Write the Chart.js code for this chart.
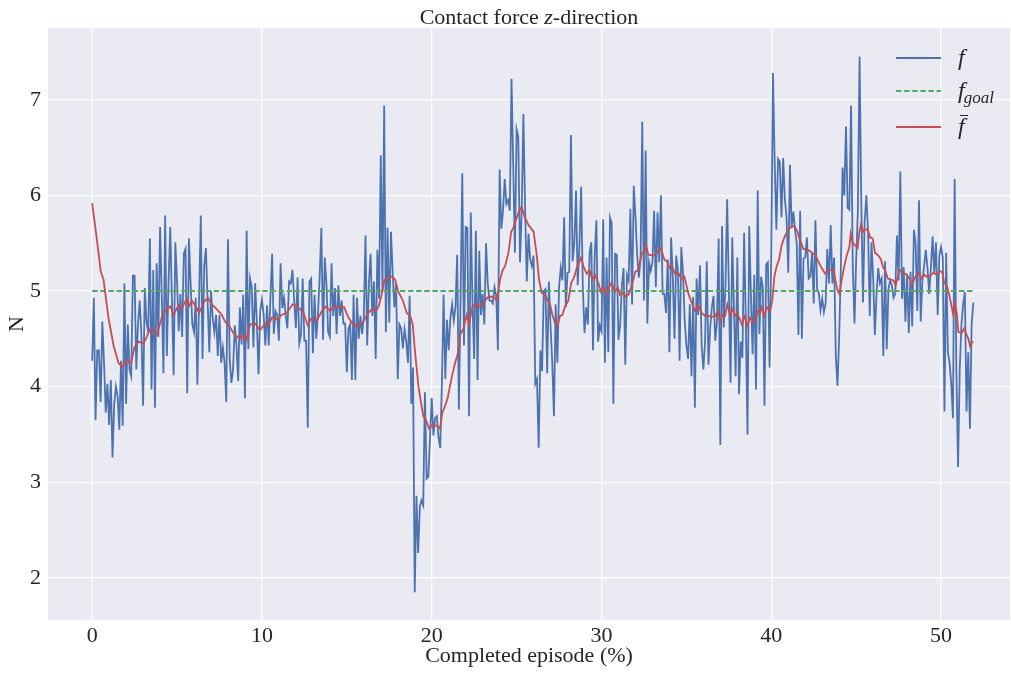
<!DOCTYPE html>
<html>
<head>
<meta charset="utf-8">
<title>Contact force z-direction</title>
<script src="https://cdn.jsdelivr.net/npm/chart.js@4.4.1/dist/chart.umd.min.js"></script>
<style>
  html, body { margin: 0; padding: 0; background: #ffffff; }
  #wrap { width: 1011px; height: 673px; position: relative; }
</style>
</head>
<body>
<div id="wrap"><canvas id="chart"></canvas></div>
<script>
// Measured contact force f (N), one sample every 0.1 % of the episode
const forceZ = [
  4.27, 4.93, 3.65, 4.38, 4.38, 3.84, 4.68, 4.25, 3.73, 4.03,
  3.60, 4.07, 3.26, 3.82, 4.00, 3.90, 3.55, 4.27, 3.59, 5.08,
  3.82, 4.65, 4.18, 4.11, 5.16, 5.16, 4.18, 4.65, 4.90, 4.55,
  3.80, 5.03, 4.68, 4.57, 5.55, 3.97, 5.22, 3.78, 5.29, 4.52,
  5.67, 4.95, 4.14, 5.79, 4.32, 5.10, 5.67, 4.90, 4.12, 5.51,
  5.10, 4.58,
  4.97, 4.52, 5.39, 5.44, 3.93, 5.55, 5.08, 4.65, 4.57, 4.93,
  4.02, 4.93, 5.79, 4.29, 5.26, 5.45, 4.90, 4.36, 5.00, 4.72,
  4.57, 4.75, 4.32, 4.75, 4.25, 4.41, 4.25, 3.84, 5.54, 4.29,
  4.04, 4.18, 4.64, 4.43, 4.06, 4.83, 4.44, 4.96, 3.88, 5.63,
  4.39, 5.13, 5.04, 4.41, 5.08, 4.68, 4.13, 4.79, 4.91, 4.75,
  4.43, 4.85,
  4.43, 4.93, 5.39, 4.55, 4.79, 4.75, 4.48, 5.29, 4.82, 4.93,
  4.75, 4.61, 5.10, 5.08, 5.22, 4.90, 4.61, 5.14, 4.45, 4.54,
  5.13, 4.48, 4.48, 3.57, 5.10, 5.13, 4.35, 4.96, 4.50, 4.75,
  5.15, 5.66, 4.49, 5.35, 5.08, 4.57, 4.52, 5.29, 4.74, 5.03,
  4.55, 5.06, 4.74, 4.90, 4.66, 4.66, 4.15, 4.61, 4.65, 4.07,
  4.96, 4.07, 4.93, 4.50,
  4.74, 4.55, 4.72, 5.58, 4.43, 5.08, 5.39, 4.74, 5.10, 4.29,
  5.43, 4.92, 6.42, 5.00, 6.94, 4.57, 5.66, 4.67, 5.62, 5.20,
  4.83, 5.08, 4.08, 4.65, 4.61, 4.40, 4.60, 4.47, 4.25, 4.95,
  3.82, 4.20, 1.85, 2.86, 2.26, 2.74, 2.81, 2.76, 3.94, 3.04,
  3.06, 3.46, 3.88, 3.49, 3.67, 3.69, 3.47, 3.36, 4.03, 4.96,
  4.08, 4.70, 4.38,
  4.72, 4.86, 4.69, 4.83, 5.38, 3.76, 4.94, 6.23, 4.43, 5.67,
  5.66, 3.69, 5.82, 4.90, 4.29, 5.63, 4.07, 5.42, 4.75, 4.97,
  4.65, 5.50, 5.08, 4.90, 4.90, 4.87, 5.04, 4.95, 4.38, 6.27,
  5.65, 5.84, 6.17, 5.91, 5.95, 5.84, 7.22, 6.32, 5.40, 6.69,
  6.61, 5.30, 5.84, 6.85, 5.87, 5.10, 5.60, 5.33, 5.26, 5.37,
  4.03, 4.08, 3.36, 4.38,
  4.16, 5.00, 5.02, 4.14, 5.10, 4.63, 4.25, 3.69, 4.86, 4.25,
  5.04, 5.24, 5.11, 5.77, 4.83, 5.19, 5.20, 6.63, 5.31, 5.50,
  6.05, 5.06, 5.48, 6.09, 5.04, 4.56, 4.83, 4.65, 5.40, 5.51,
  4.38, 5.37, 5.74, 4.47, 4.64, 4.58, 5.75, 4.25, 5.35, 4.36,
  5.77, 5.71, 3.82, 5.39, 5.38, 4.49, 4.65, 5.06, 5.24, 4.23,
  5.17, 5.11, 5.86,
  4.86, 6.10, 5.78, 5.38, 5.14, 5.33, 6.77, 4.90, 6.47, 4.66,
  5.30, 5.21, 5.30, 5.84, 5.04, 5.82, 5.30, 6.00, 4.97, 4.97,
  4.77, 5.33, 4.36, 5.56, 5.15, 4.50, 5.37, 5.22, 4.27, 5.46,
  5.19, 4.69, 4.43, 4.29, 4.86, 4.11, 4.94, 3.78, 5.13, 4.75,
  5.27, 4.43, 4.18, 4.47, 5.31, 4.23, 4.61, 4.83, 4.95, 4.48,
  4.68, 5.55, 3.39,
  5.68, 4.62, 5.04, 5.96, 5.04, 4.04, 5.56, 4.83, 4.11, 5.35,
  3.92, 4.47, 4.30, 5.61, 4.68, 3.50, 5.68, 4.97, 4.34, 5.17,
  3.97, 6.05, 4.55, 5.15, 5.04, 3.80, 5.28, 5.30, 4.20, 5.40,
  7.28, 6.34, 5.64, 6.38, 6.35, 5.77, 6.39, 5.96, 5.77, 5.19,
  6.32, 5.66, 5.83, 5.64, 5.50, 4.54, 5.84, 4.50, 5.34, 5.35,
  5.56, 5.13,
  5.15, 5.40, 4.87, 5.74, 5.02, 4.98, 4.80, 4.92, 4.78, 4.87,
  5.44, 5.08, 5.69, 5.08, 5.35, 4.32, 4.01, 4.53, 5.26, 6.29,
  6.00, 6.72, 5.87, 5.85, 6.94, 5.26, 4.66, 5.33, 5.84, 7.45,
  5.95, 4.88, 5.73, 6.00, 5.62, 4.74, 5.51, 5.15, 4.54, 4.97,
  5.24, 5.08, 5.13, 4.32, 5.31, 4.39, 5.02, 5.11, 5.06, 4.93,
  4.97, 5.58, 5.11, 6.25,
  4.92, 5.25, 4.68, 5.18, 4.56, 5.20, 4.63, 5.64, 5.50, 4.79,
  5.95, 4.68, 5.11, 5.26, 5.43, 5.24, 4.97, 5.24, 5.57, 5.19,
  5.51, 4.75, 5.37, 5.46, 5.35, 3.74, 5.40, 4.36, 4.25, 4.03,
  3.67, 6.17, 4.18, 3.16, 4.18, 4.65, 4.86, 4.99, 3.74, 4.36,
  3.56, 4.65, 4.88
];
const SAMPLE_STEP = 0.1;   // % of episode between two samples of f

// Running mean of the force (f-bar)
const meanX = [
  0.00, 0.27, 0.51, 0.67, 0.96, 1.26, 1.55, 1.79, 1.94, 2.30, 2.49, 2.73, 3.02, 3.22, 3.42, 3.61, 3.81, 4.14, 4.40, 4.60, 4.79,
  5.08, 5.28, 5.58, 5.71, 5.87, 6.10, 6.30, 6.56, 6.81, 7.05, 7.34, 7.64, 7.83, 8.03, 8.32, 8.68, 8.91, 9.07, 9.30, 9.60, 9.89, 10.19,
  10.38, 10.58, 10.97, 11.13, 11.46, 11.80, 12.05, 12.25, 12.45, 12.70, 12.88, 13.23, 13.53, 13.78, 14.02, 14.21, 14.51, 14.84, 15.10, 15.33, 15.53, 15.78,
  15.98, 16.18, 16.47, 16.70, 16.86, 17.06, 17.22, 17.35, 17.51, 17.65, 17.84, 18.04, 18.30, 18.53, 18.73, 18.88, 19.02, 19.22, 19.38, 19.51, 19.67, 19.85, 20.04, 20.30, 20.49, 20.63, 20.79, 20.95,
  21.18, 21.38, 21.53, 21.67, 21.87, 22.06, 22.20, 22.40, 22.59, 22.75, 22.95, 23.14, 23.34, 23.63, 23.83, 24.03, 24.18, 24.32, 24.52, 24.68, 24.81, 25.01, 25.15, 25.30, 25.46, 25.70, 26.00, 26.19, 26.32,
  26.48, 26.68, 26.83, 26.97, 27.11, 27.27, 27.42, 27.56, 27.70, 27.85, 28.05, 28.21, 28.40, 28.54, 28.80, 28.93, 29.13, 29.29, 29.46, 29.62, 29.82, 29.97, 30.11, 30.27, 30.41, 30.60, 30.80, 30.96, 31.09, 31.29, 31.43, 31.62,
  31.74, 31.88, 31.98, 32.17, 32.37, 32.53, 32.62, 32.76, 33.06, 33.25, 33.49, 33.70, 33.90, 34.00, 34.17, 34.33, 34.53, 34.69, 34.88, 35.12, 35.31, 35.51, 35.70, 35.90, 36.10, 36.30, 36.49, 36.69, 36.85,
  36.98, 37.12, 37.28, 37.41, 37.57, 37.71, 37.87, 37.98, 38.16, 38.26, 38.45, 38.59, 38.75, 38.91, 39.04, 39.20, 39.34, 39.44, 39.59, 39.73, 39.93, 40.06, 40.18, 40.32, 40.46, 40.61, 40.75, 40.87, 41.05, 41.24, 41.40, 41.54, 41.69, 41.89, 42.09, 42.28,
  42.38, 42.58, 42.77, 42.97, 43.17, 43.36, 43.66, 43.77, 43.89, 44.01, 44.15, 44.30, 44.44, 44.60, 44.68, 44.78, 44.93, 45.09, 45.19, 45.29, 45.42, 45.52, 45.68, 45.82, 45.97, 46.11, 46.31, 46.46, 46.60, 46.70, 46.86, 47.05, 47.19, 47.33, 47.45, 47.58,
  47.78, 47.98, 48.17, 48.27, 48.43, 48.56, 48.70, 48.86, 49.02, 49.15, 49.35, 49.55, 49.74, 49.94, 50.08, 50.19, 50.33, 50.47, 50.63, 50.72, 50.82, 50.92, 51.02, 51.21, 51.37, 51.51, 51.61, 51.71, 51.80, 51.90
];
const meanY = [
  5.92, 5.55, 5.20, 5.12, 4.72, 4.43, 4.25, 4.20, 4.27, 4.25, 4.41, 4.47, 4.45, 4.52, 4.61, 4.56, 4.54, 4.75, 4.81, 4.84, 4.75,
  4.85, 4.82, 4.92, 4.84, 4.90, 4.84, 4.77, 4.88, 4.93, 4.86, 4.81, 4.75, 4.68, 4.65, 4.56, 4.50, 4.54, 4.48, 4.65, 4.66, 4.59, 4.66,
  4.64, 4.72, 4.70, 4.75, 4.77, 4.86, 4.84, 4.81, 4.77, 4.64, 4.71, 4.69, 4.79, 4.84, 4.79, 4.84, 4.83, 4.83, 4.72, 4.66, 4.63, 4.64,
  4.68, 4.75, 4.81, 4.79, 4.83, 4.97, 5.12, 5.12, 5.14, 5.15, 5.12, 4.99, 4.90, 4.77, 4.74, 4.65, 4.36, 4.00, 3.82, 3.69, 3.65, 3.56, 3.60, 3.59, 3.56, 3.73, 3.80, 3.89,
  4.10, 4.25, 4.34, 4.54, 4.61, 4.75, 4.65, 4.84, 4.86, 4.84, 4.84, 4.90, 4.94, 4.94, 4.90, 5.12, 5.22, 5.26, 5.40, 5.62, 5.66, 5.77, 5.84, 5.88, 5.78, 5.69, 5.62, 5.37, 5.12,
  4.98, 4.96, 4.90, 4.86, 4.75, 4.66, 4.64, 4.74, 4.75, 4.84, 4.90, 5.08, 5.15, 5.24, 5.35, 5.26, 5.18, 5.22, 5.12, 5.17, 5.08, 4.99, 5.04, 4.97, 5.02, 5.09, 4.99, 5.04, 4.96, 4.98, 4.94, 4.97,
  5.04, 5.12, 5.20, 5.22, 5.40, 5.41, 5.48, 5.38, 5.37, 5.40, 5.45, 5.33, 5.30, 5.24, 5.25, 5.18, 5.19, 5.13, 5.15, 4.97, 4.88, 4.79, 4.85, 4.77, 4.74, 4.74, 4.73, 4.74, 4.79,
  4.68, 4.75, 4.74, 4.86, 4.75, 4.81, 4.74, 4.77, 4.70, 4.65, 4.74, 4.63, 4.72, 4.68, 4.68, 4.79, 4.77, 4.83, 4.74, 4.83, 4.79, 4.90, 5.15, 5.26, 5.33, 5.48, 5.55, 5.60, 5.65, 5.68, 5.67, 5.62, 5.53, 5.44, 5.43, 5.42,
  5.40, 5.38, 5.31, 5.24, 5.18, 5.22, 5.22, 5.12, 5.01, 4.97, 5.12, 5.26, 5.37, 5.46, 5.60, 5.51, 5.48, 5.45, 5.62, 5.70, 5.62, 5.64, 5.65, 5.56, 5.55, 5.40, 5.37, 5.33, 5.24, 5.22, 5.13, 5.12, 5.11, 5.06, 5.15, 5.22,
  5.19, 5.17, 5.12, 5.06, 5.13, 5.17, 5.19, 5.13, 5.17, 5.15, 5.16, 5.19, 5.17, 5.21, 5.19, 5.08, 5.06, 4.97, 4.83, 4.75, 4.86, 4.77, 4.57, 4.56, 4.61, 4.54, 4.50, 4.42, 4.46, 4.47
];

// Target force f_goal
const goalX = [0, 52];
const goalY = [5, 5];

// Axis ticks and limits
const xTicks = [0, 10, 20, 30, 40, 50];
const yTicks = [2, 3, 4, 5, 6, 7];
const xRange = [-2.6, 54.06];
const yRange = [1.56, 7.75];

const SERIF = "'Liberation Serif', 'Times New Roman', serif";
const INK = '#262626';
const PANEL = '#EAEAF2';
const BLUE = '#4C72B0', GREEN = '#55A868', RED = '#C44E52';

const toPoints = (xs, ys) => xs.map((x, i) => ({ x: x, y: ys[i] }));
const sampleX = forceZ.map((_, i) => +(i * SAMPLE_STEP).toFixed(2));

// Grey panel behind the plot area
const panelPlugin = {
  id: 'panel',
  beforeDraw(chart) {
    const { ctx, chartArea: a } = chart;
    ctx.save();
    ctx.fillStyle = PANEL;
    ctx.fillRect(a.left, a.top, a.right - a.left, a.bottom - a.top);
    ctx.restore();
  }
};

// Title with an italic z
const titlePlugin = {
  id: 'mathTitle',
  afterDraw(chart) {
    const { ctx, chartArea: a } = chart;
    const parts = [
      { t: 'Contact force ', f: `22px ${SERIF}` },
      { t: 'z', f: `italic 22px ${SERIF}` },
      { t: '-direction', f: `22px ${SERIF}` }
    ];
    ctx.save();
    let total = 0;
    parts.forEach(p => { ctx.font = p.f; p.w = ctx.measureText(p.t).width; total += p.w; });
    let x = (a.left + a.right) / 2 - total / 2;
    ctx.fillStyle = INK;
    ctx.textBaseline = 'alphabetic';
    ctx.textAlign = 'left';
    parts.forEach(p => { ctx.font = p.f; ctx.fillText(p.t, x, 24); x += p.w; });
    ctx.restore();
  }
};

// Legend: f, f_goal, f-bar
const legendLabels = [
  { base: 'f' },
  { base: 'f', sub: 'goal' },
  { base: 'f', bar: true }
];
const legendPlugin = {
  id: 'mathLegend',
  afterDraw(chart) {
    const { ctx } = chart;
    const rows = [58, 91, 127];
    ctx.save();
    legendLabels.forEach((lab, r) => {
      const ds = chart.data.datasets[r];
      const y = rows[r];
      ctx.strokeStyle = ds.borderColor;
      ctx.lineWidth = ds.borderWidth;
      ctx.setLineDash(ds.borderDash || []);
      ctx.beginPath();
      ctx.moveTo(896, y);
      ctx.lineTo(941, y);
      ctx.stroke();
      ctx.setLineDash([]);
      ctx.fillStyle = INK;
      ctx.textBaseline = 'alphabetic';
      ctx.font = `italic 24px ${SERIF}`;
      const bx = 958;
      const by = y + 7;
      ctx.fillText(lab.base, bx, by);
      const fw = ctx.measureText(lab.base).width;
      if (lab.sub) {
        ctx.font = `italic 17px ${SERIF}`;
        ctx.fillText(lab.sub, bx + fw - 1, by + 5);
      }
      if (lab.bar) {
        ctx.strokeStyle = INK;
        ctx.lineWidth = 1;
        ctx.beginPath();
        ctx.moveTo(bx + 2, by - 18.5);
        ctx.lineTo(bx + 10, by - 18.5);
        ctx.stroke();
      }
    });
    ctx.restore();
  }
};

const tickFont = { family: SERIF, size: 22 };

new Chart(document.getElementById('chart'), {
  type: 'line',
  data: {
    datasets: [
      {
        label: 'f',
        data: toPoints(sampleX, forceZ),
        borderColor: BLUE,
        borderWidth: 1.8,
        pointRadius: 0,
        order: 3
      },
      {
        label: 'f_goal',
        data: toPoints(goalX, goalY),
        borderColor: GREEN,
        borderWidth: 1.8,
        borderDash: [5.5, 2.6],
        pointRadius: 0,
        order: 2
      },
      {
        label: 'f\u0304',
        data: toPoints(meanX, meanY),
        borderColor: RED,
        borderWidth: 1.8,
        pointRadius: 0,
        order: 1
      }
    ]
  },
  options: {
    responsive: true,
    maintainAspectRatio: false,
    animation: false,
    layout: { padding: { top: 28, right: 1, left: 0, bottom: 0 } },
    elements: { line: { tension: 0 } },
    plugins: {
      legend: { display: false },
      title: { display: false },
      tooltip: { enabled: false }
    },
    scales: {
      x: {
        type: 'linear',
        min: xRange[0],
        max: xRange[1],
        afterFit(s) { s.height = 53; },
        afterBuildTicks(s) { s.ticks = xTicks.map(v => ({ value: v })); },
        grid: { color: '#ffffff', lineWidth: 1.3, drawTicks: false },
        border: { display: false },
        ticks: { font: tickFont, color: INK, padding: 3, maxRotation: 0, callback: v => String(v) },
        title: { display: true, text: 'Completed episode (%)', font: tickFont, color: INK, padding: { top: 0, bottom: 4 } }
      },
      y: {
        type: 'linear',
        min: yRange[0],
        max: yRange[1],
        afterFit(s) { s.width = 48; },
        afterBuildTicks(s) { s.ticks = yTicks.map(v => ({ value: v })); },
        grid: { color: '#ffffff', lineWidth: 1.3, drawTicks: false },
        border: { display: false },
        ticks: { font: tickFont, color: INK, padding: 7, callback: v => String(v) },
        title: { display: true, text: 'N', font: tickFont, color: INK, padding: { top: 4, bottom: 0 } }
      }
    }
  },
  plugins: [panelPlugin, titlePlugin, legendPlugin]
});
</script>
</body>
</html>
